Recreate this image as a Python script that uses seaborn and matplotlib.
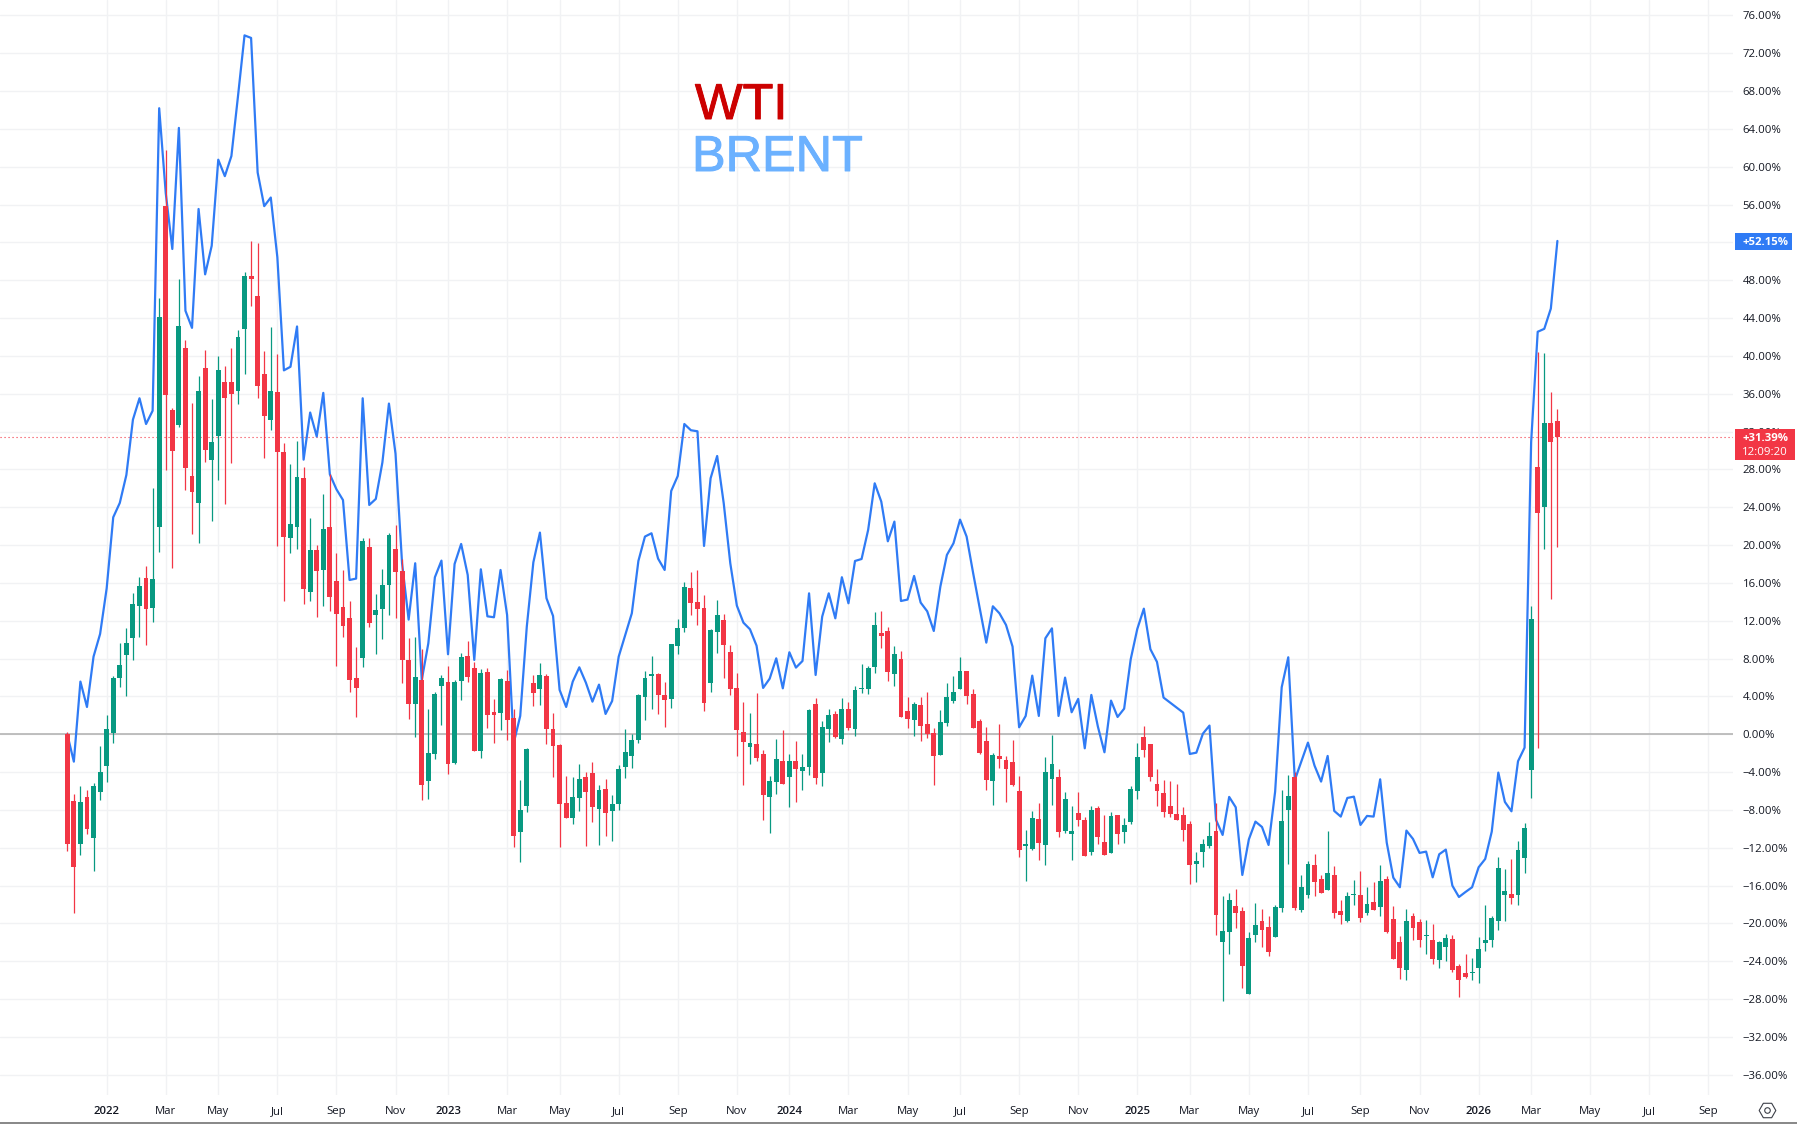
import numpy as np
import pandas as pd
import matplotlib
matplotlib.use("Agg")
import matplotlib.pyplot as plt
import matplotlib.patheffects as pe
from matplotlib.patches import Rectangle
from matplotlib.lines import Line2D
import seaborn as sns

start_week = "2021-11-22"

opens = [
 0.03,-7.05,-11.56,-6.62,-10.92,-6.06,-3.31,0.18,5.99,8.42,
 10.22,13.6,16.53,13.39,21.86,55.83,34.28,32.73,40.85,27.29,
 24.5,38.73,29.03,31.56,37.2,37.2,36.32,42.88,48.43,46.32,
 38.09,33.26,36.16,29.82,20.8,21.93,27.09,15.08,19.49,17.4,
 21.92,16.21,13.46,12.3,5.95,8.1,19.8,12.65,13.28,15.82,
 19.59,17.27,7.86,3.24,5.74,-4.9,-2.04,5.14,5.53,-3.0,
 5.67,8.28,7.01,-1.73,6.59,2.36,2.29,5.64,1.73,-10.29,
 -7.54,5.43,4.83,6.17,0.56,-1.13,-7.26,-8.81,-6.7,-4.51,
 -4.09,-7.86,-5.78,-8.07,-7.33,-3.42,-2.26,-0.56,3.98,6.2,
 6.38,4.16,3.77,9.37,11.28,15.47,13.99,13.35,5.46,10.85,
 12.09,8.7,4.9,0.25,-1.3,-1.06,-2.08,-6.59,-5.0,-2.82,
 -4.47,-2.82,-3.84,-3.42,3.21,-4.05,0.56,2.15,-0.46,2.68,
 0.6,4.76,4.83,7.15,10.71,10.92,6.41,7.96,2.47,1.55,
 3.1,1.09,0.14,-2.15,1.23,3.56,4.83,6.69,4.26,1.41,
 -0.7,-4.9,-2.29,-2.71,-2.92,-5.99,-11.77,-12.09,-8.95,-11.66,
 -4.69,-4.51,-10.18,-10.5,-8.32,-9.06,-12.4,-7.79,-11.38,-12.51,
 -8.53,-10.29,-9.23,-5.95,-0.28,-1.02,-5.25,-6.2,-7.58,-8.42,
 -8.53,-9.48,-13.67,-12.4,-11.77,-10.22,-21.92,-20.86,-18.15,-18.67,
 -27.41,-21.18,-19.73,-20.37,-21.39,-18.32,-7.96,-4.51,-18.57,-16.95,
 -13.81,-15.29,-16.42,-14.87,-18.67,-19.73,-16.98,-16.98,-18.85,-17.72,
 -18.22,-15.29,-19.52,-21.95,-24.88,-19.2,-19.84,-21.28,-21.74,-23.82,
 -22.45,-21.63,-24.49,-25.23,-25.19,-24.67,-22.02,-21.71,-19.7,-16.98,
 -16.88,-16.95,-13.04,-3.73,28.25,24.06,32.91,33.13,
]
closes = [
 -11.56,-13.99,-7.15,-10.0,-5.46,-3.98,0.56,5.95,7.33,9.65,
 13.78,15.68,13.28,16.42,44.09,35.9,29.97,43.15,28.2,25.63,
 36.28,30.09,30.88,38.5,35.6,36.0,41.98,48.43,48.17,36.84,
 33.67,36.28,29.79,20.87,22.25,27.17,15.4,19.49,17.3,21.7,
 14.55,12.76,11.49,5.78,4.93,20.44,11.77,13.14,15.79,21.07,
 17.2,7.89,3.24,6.06,-5.32,-1.97,4.26,5.95,-3.1,5.53,
 8.17,6.1,-1.73,6.48,2.08,2.04,5.85,1.55,-10.71,-8.0,
 -1.55,4.4,6.27,0.6,-1.2,-7.33,-8.81,-6.62,-4.72,-6.06,
 -7.65,-5.88,-8.28,-7.36,-3.66,-1.87,-0.6,4.16,5.95,6.38,
 4.19,3.66,9.55,11.24,15.57,13.92,13.28,3.35,11.03,12.61,
 9.48,4.83,0.49,-0.78,-0.92,-2.47,-6.38,-4.93,-2.61,-5.21,
 -2.82,-3.63,-3.45,2.57,-4.58,0.78,2.04,-0.25,2.68,0.67,
 4.69,4.93,7.01,11.56,10.43,6.62,8.49,1.87,1.66,3.21,
 0.92,0.07,-2.26,1.3,3.95,4.47,6.69,4.09,0.7,-1.94,
 -4.79,-2.18,-2.57,-3.63,-5.32,-12.19,-11.59,-8.84,-11.45,-3.98,
 -3.14,-10.29,-6.84,-10.22,-9.02,-12.83,-8.0,-10.82,-12.72,-8.63,
 -10.5,-9.58,-5.78,-2.4,-1.62,-4.47,-5.95,-8.17,-8.39,-9.02,
 -10.08,-13.78,-13.39,-11.59,-10.75,-19.06,-20.79,-17.51,-18.85,-24.45,
 -21.53,-20.16,-20.65,-22.97,-18.25,-9.16,-6.52,-18.32,-16.14,-13.71,
 -15.57,-16.74,-14.66,-18.85,-19.06,-17.09,-16.88,-19.38,-17.94,-18.53,
 -15.5,-20.9,-23.71,-24.67,-19.73,-20.44,-21.71,-21.21,-23.71,-21.95,
 -21.53,-24.88,-25.93,-25.62,-25.12,-22.69,-21.74,-19.42,-14.13,-16.56,
 -17.27,-12.23,-9.9,12.19,23.43,32.91,30.94,31.39,
]
highs = [
 0.25,-6.3,-5.46,-5.88,-5.18,-1.23,2.04,6.17,9.62,11.24,
 14.94,16.63,17.79,26.05,46.1,61.76,34.5,48.09,41.68,35.03,
 37.86,40.62,35.45,39.98,38.92,40.85,42.73,48.85,52.13,51.94,
 40.5,43.04,40.2,30.8,28.58,30.99,28.24,22.88,20.05,25.4,
 27.48,19.2,17.37,14.09,9.23,20.75,20.75,14.83,17.48,21.28,
 22.13,18.53,10.18,10.29,9.02,2.68,4.47,6.27,7.22,5.74,
 8.6,9.83,7.61,6.87,7.01,3.73,5.92,6.8,2.68,-4.83,
 -1.48,6.27,7.54,6.38,2.26,-1.06,-4.4,-4.51,-3.14,-3.98,
 -2.92,-5.39,-4.72,-6.41,-3.24,0.53,0.0,4.23,6.69,8.28,
 6.45,5.53,9.55,12.19,16.1,17.16,17.37,14.73,11.1,14.2,
 12.72,9.44,6.45,3.42,2.26,4.33,-1.66,-4.4,-0.49,0.46,
 -2.08,-0.7,-2.08,2.64,3.81,1.37,2.68,2.43,3.81,3.42,
 5.11,7.43,7.19,12.9,13.0,11.31,9.34,8.81,3.95,3.42,
 3.95,4.47,0.67,2.57,5.43,6.17,8.17,6.69,4.8,1.62,
 0.78,-1.97,1.09,-2.29,-0.6,-4.4,-10.11,-8.1,-7.26,-2.4,
 -0.07,-3.66,-6.1,-7.58,-6.1,-8.74,-7.58,-7.58,-8.53,-8.21,
 -8.53,-8.84,-5.46,-0.92,0.88,-1.02,-3.66,-4.83,-4.93,-5.25,
 -7.68,-9.16,-12.44,-11.06,-9.27,-7.26,-17.09,-16.77,-16.35,-18.25,
 -20.9,-17.83,-18.46,-19.2,-18.04,-5.88,-4.3,-3.98,-14.87,-13.39,
 -12.65,-14.87,-10.22,-13.92,-17.51,-16.67,-15.4,-14.45,-16.14,-15.61,
 -13.81,-14.98,-18.15,-21.32,-18.46,-18.89,-19.52,-19.63,-20.05,-21.81,
 -21.11,-21.21,-24.28,-23.22,-23.64,-21.42,-18.04,-19.2,-12.97,-14.24,
 -13.18,-11.28,-9.37,13.57,40.36,40.32,36.2,34.4,
]
lows = [
 -12.3,-18.85,-12.72,-10.5,-14.41,-6.91,-5.0,-0.88,5.04,4.09,
 7.89,10.32,9.48,11.91,19.3,27.97,17.62,32.5,25.86,21.22,
 20.27,28.8,22.57,26.92,24.39,28.73,34.96,38.09,45.3,35.6,
 29.25,32.2,19.93,14.13,19.2,19.63,13.81,14.13,12.44,13.6,
 13.04,7.26,10.32,4.51,1.87,7.15,11.38,8.53,10.11,12.65,
 12.33,5.46,1.66,-0.25,-6.91,-6.8,-2.57,1.02,-4.16,-3.1,
 3.66,5.57,-1.8,-2.47,0.7,-0.88,0.49,-0.56,-11.87,-13.46,
 -8.17,3.03,3.14,-0.99,-4.47,-11.87,-8.9,-9.44,-8.07,-11.77,
 -9.23,-11.66,-10.71,-11.24,-7.96,-4.58,-3.52,-0.88,1.55,2.71,
 2.18,0.81,2.82,8.49,10.85,12.65,11.56,2.5,4.47,8.63,
 5.99,4.16,-2.29,-5.32,-3.1,-2.78,-9.02,-10.39,-6.27,-5.29,
 -7.65,-7.12,-5.85,-4.26,-5.21,-5.46,-0.78,-0.35,-0.99,0.46,
 -0.14,4.4,4.3,6.52,9.16,5.67,5.14,1.8,0.7,-0.14,
 -0.67,-0.35,-5.32,-2.2,0.92,3.35,4.8,3.24,0.65,-2.04,
 -5.85,-7.43,-3.52,-7.12,-5.43,-12.93,-15.47,-12.19,-13.25,-13.78,
 -7.43,-10.82,-10.39,-13.25,-9.65,-12.9,-12.72,-11.56,-12.8,-12.6,
 -11.56,-11.45,-9.44,-6.8,-2.36,-4.9,-7.54,-8.7,-8.7,-9.1,
 -11.24,-15.79,-15.57,-13.99,-11.98,-21.18,-28.15,-23.19,-20.44,-26.78,
 -27.5,-21.92,-22.45,-23.4,-21.45,-18.75,-13.67,-18.53,-18.75,-17.27,
 -17.09,-16.8,-16.5,-19.38,-20.05,-19.8,-18.04,-19.8,-19.06,-18.6,
 -19.2,-21.0,-23.75,-25.83,-25.93,-21.74,-22.48,-23.19,-24.24,-24.67,
 -23.93,-25.09,-27.73,-25.72,-25.93,-26.25,-22.87,-22.45,-20.68,-19.73,
 -17.94,-18.04,-14.66,-6.73,-1.49,19.54,14.33,19.85,
]
brent = [
 0.0,-2.89,5.57,2.89,8.21,10.61,15.43,22.94,24.46,27.41,
 33.26,35.52,32.8,34.2,66.18,57.2,51.3,64.1,44.77,42.96,
 55.53,48.62,51.64,60.74,59.0,61.12,67.42,73.88,73.61,59.38,
 55.83,56.74,50.43,38.47,38.85,43.11,29.03,34.01,31.48,36.09,
 27.48,25.9,24.76,16.31,16.46,35.52,24.24,24.88,28.73,34.96,
 29.67,18.08,12.12,18.08,5.74,9.62,16.6,18.36,8.46,18.0,
 20.12,16.84,7.86,17.44,12.47,12.37,17.37,12.61,-0.95,1.94,
 11.38,18.18,21.32,14.38,12.51,4.69,2.89,5.57,7.08,5.46,
 3.45,5.25,2.15,3.52,8.21,10.5,12.79,18.32,20.9,21.25,
 18.57,17.37,25.72,27.31,32.8,32.14,32.03,19.91,27.06,29.42,
 24.42,18.08,13.6,11.8,11.1,9.37,4.9,5.88,8.03,4.86,
 8.67,7.05,7.75,14.9,6.27,12.44,14.9,12.26,16.6,13.85,
 18.32,18.53,21.6,26.53,24.6,20.4,22.48,14.09,14.24,16.74,
 13.92,13.0,10.92,15.61,18.96,20.19,22.69,20.9,17.02,13.32,
 9.69,13.53,12.79,11.56,9.27,0.74,1.94,6.2,1.94,10.15,
 11.2,1.94,5.99,2.33,3.74,-1.48,4.16,0.81,-1.9,3.56,
 1.83,2.71,7.93,11.13,13.28,8.99,7.65,3.88,3.35,2.82,
 2.29,-2.08,-1.94,0.07,0.92,-9.06,-10.64,-6.62,-7.72,-14.87,
 -11.1,-9.23,-9.8,-11.7,-6.06,4.97,8.14,-4.83,-2.85,-0.88,
 -3.31,-5.0,-2.29,-8.1,-8.7,-6.73,-6.59,-9.58,-8.63,-8.7,
 -4.76,-11.45,-15.15,-16.17,-10.18,-11.06,-12.54,-12.4,-15.12,-12.68,
 -12.19,-16.0,-17.2,-16.67,-16.17,-14.06,-13.18,-10.29,-4.05,-7.15,
 -8.14,-2.85,-1.41,30.9,42.55,42.86,45.0,52.15,
]
tick_dates = [
 "2022-01-03","2022-03-07","2022-05-02","2022-07-04","2022-09-05","2022-11-07",
 "2023-01-02","2023-03-06","2023-05-01","2023-07-03","2023-09-04","2023-11-06",
 "2024-01-01","2024-03-04","2024-05-06","2024-07-01","2024-09-02","2024-11-04",
 "2025-01-06","2025-03-03","2025-05-05","2025-07-07","2025-09-01","2025-11-03",
 "2026-01-05","2026-03-02","2026-05-04","2026-07-06","2026-09-07",
]
tick_labels = [
 "2022","Mar","May","Jul","Sep","Nov","2023","Mar","May","Jul","Sep","Nov",
 "2024","Mar","May","Jul","Sep","Nov","2025","Mar","May","Jul","Sep","Nov",
 "2026","Mar","May","Jul","Sep",
]
pct_ticks = list(range(-36, 80, 4))
hidden_pct_label = 52   # sits wholly behind the blue price tag in the reference
last_wti = 31.39
last_brent = 52.15

GREEN, RED, BLUE = "#089981", "#F23645", "#2F7BF5"
GRID, TXT = "#F1F2F4", "#131722"

sns.set_theme(style="white")
plt.rcParams["font.family"] = ["Open Sans", "DejaVu Sans"]

df = pd.DataFrame({"open": opens, "high": highs, "low": lows, "close": closes, "brent": brent})
df["date"] = pd.date_range(start_week, periods=len(df), freq="7D")
up = df["close"] >= df["open"]
colors = np.where(up, GREEN, RED)

W, H = 1797, 1124
fig = plt.figure(figsize=(W / 100, H / 100), dpi=100, facecolor="white")
ax = fig.add_axes([0, 29 / H, 1733 / W, 1095 / H])
ax.set_facecolor("white")

sns.lineplot(data=df, x="date", y="brent", color=BLUE, linewidth=1.6, ax=ax, zorder=3,
             estimator=None, errorbar=None)

ax.vlines(df["date"], df["low"], df["high"], colors=colors, linewidth=0.9, zorder=4)
ax.bar(df["date"], (df["close"] - df["open"]).abs(), bottom=df[["open", "close"]].min(axis=1),
       width=5.2, color=colors, linewidth=0, zorder=5)

ax.axhline(0, color="#B4B4B4", linewidth=1.2, zorder=2)
ax.axhline(last_wti, color=RED, linewidth=0.8, linestyle=(0, (1, 2.6)), zorder=2)

t0 = pd.Timestamp(start_week)
ax.set_xlim(t0 - pd.Timedelta(days=7 * 10.25), t0 + pd.Timedelta(days=7 * 253.75))
ax.set_ylim(-38.13, 77.62)

ax.set_axisbelow(True)
ax.set_xticks(pd.to_datetime(tick_dates))
ax.set_xticklabels(tick_labels)
ax.set_yticks(pct_ticks)
ax.set_yticklabels(["" if v == hidden_pct_label else f"{v:.2f}%".replace("-", "\u2212") for v in pct_ticks])
ax.yaxis.tick_right()
ax.grid(True, color=GRID, linewidth=1.0)
ax.tick_params(axis="y", length=0, pad=7, labelsize=8.2, labelcolor=TXT)
ax.tick_params(axis="x", length=0, pad=8, labelsize=8.2, labelcolor=TXT)
for lab, text in zip(ax.get_xticklabels(), tick_labels):
    if text.isdigit():
        lab.set_fontweight("semibold")
ax.set_xlabel("")
ax.set_ylabel("")
for s in ax.spines.values():
    s.set_visible(False)

# title words
word_fx = lambda c: [pe.withStroke(linewidth=0.7, foreground=c)]
ax.text(695 / 1733, 1 - 119 / 1095, "WTI", color="#CC0000", fontsize=36.3, family="Liberation Sans",
        transform=ax.transAxes, ha="left", va="baseline", zorder=6, path_effects=word_fx("#CC0000"))
ax.text(692 / 1733, 1 - 171 / 1095, "BRENT", color="#6BB1FF", fontsize=36.3, family="Liberation Sans",
        transform=ax.transAxes, ha="left", va="baseline", zorder=6, path_effects=word_fx("#6BB1FF"))

# price tags on the scale
tr = ax.get_yaxis_transform()
ax.add_patch(Rectangle((1.0012, 51.2), 0.0329, 1.8, transform=tr, facecolor=BLUE, edgecolor="none",
                       clip_on=False, zorder=10))
ax.text(1.0052, last_brent - 0.17, f"+{last_brent:.2f}%", transform=tr, color="white", fontsize=8.2,
        fontweight="bold", va="center", ha="left", clip_on=False, zorder=11)
ax.add_patch(Rectangle((1.0012, 29.0), 0.0346, 3.27, transform=tr, facecolor=RED, edgecolor="none",
                       clip_on=False, zorder=10))
ax.text(1.0052, last_wti - 0.1, f"+{last_wti:.2f}%", transform=tr, color="white", fontsize=8.2,
        fontweight="bold", va="center", ha="left", clip_on=False, zorder=11)
ax.text(1.0052, last_wti - 1.55, "12:09:20", transform=tr, color="white", fontsize=8.2,
        va="center", ha="left", clip_on=False, zorder=11)

# bottom rule and settings glyph
fig.add_artist(Rectangle((0, 0), 1, 2 / H, transform=fig.transFigure, facecolor="#8A8A8A", edgecolor="none"))
gx, gy = 1767 / W, 1 - 1110 / H
fig.add_artist(Line2D([gx], [gy], marker="H", markersize=12, markerfacecolor="none",
                      markeredgecolor="#3C3F48", markeredgewidth=0.8, transform=fig.transFigure))
fig.add_artist(Line2D([gx], [gy], marker="o", markersize=4, markerfacecolor="none",
                      markeredgecolor="#3C3F48", markeredgewidth=0.8, transform=fig.transFigure))

fig.savefig("out.png", dpi=100, facecolor="white")
